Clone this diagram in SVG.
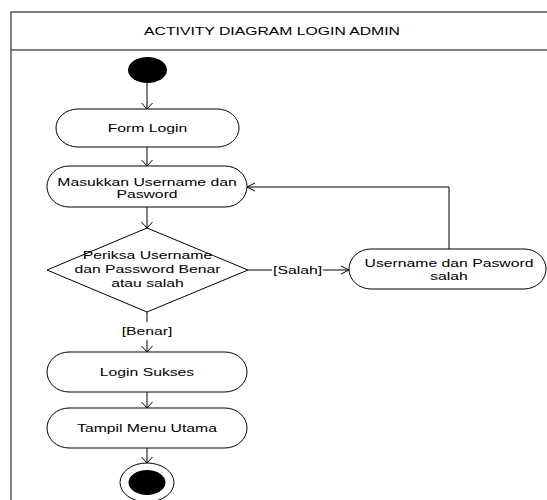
<svg xmlns="http://www.w3.org/2000/svg" width="547" height="500" viewBox="0 0 547 500">
<style>
.t{font-family:"Liberation Sans",Arial,sans-serif;font-size:10.5px;fill:#000;text-anchor:middle}
.n{fill:#fff;stroke:#000;stroke-width:1}
.c{fill:none;stroke:#000;stroke-width:1}
.fr{fill:none;stroke:#555;stroke-width:1.5}
</style>
<rect width="547" height="500" fill="#fff"/>
<g id="frame">
<rect class="fr" x="11" y="12" width="560" height="520"/>
<line class="fr" x1="11" y1="50" x2="560" y2="50"/>
<text class="t" transform="translate(272,35) scale(1.5,1)">ACTIVITY DIAGRAM LOGIN ADMIN</text>
</g>
<g id="connectors">
<path class="c" d="M147,83 V109 M141.5,103 L147,109 L152.5,103"/>
<path class="c" d="M147,147 V166 M141.5,160 L147,166 L152.5,160"/>
<path class="c" d="M147,207 V228 M141.5,222 L147,228 L152.5,222"/>
<path class="c" d="M147,312 V322 M147,340 V352 M141.5,346 L147,352 L152.5,346"/>
<path class="c" d="M248,270 H272 M323,270 H349 M341,266 L349,270 L341,274"/>
<path class="c" d="M449,249 V187 H247 M255,183 L247,187 L255,191"/>
<path class="c" d="M147,392 V408 M141.5,402 L147,408 L152.5,402"/>
<path class="c" d="M147,448 V463 M141.5,457 L147,463 L152.5,457"/>
<text class="t" transform="translate(147,335) scale(1.5,1)">[Benar]</text>
<text class="t" transform="translate(297.5,274) scale(1.5,1)">[Salah]</text>
</g>
<g id="start">
<ellipse cx="147.5" cy="70" rx="19.5" ry="13" fill="#000"/>
</g>
<g id="form-login">
<rect class="n" x="56" y="109" width="183" height="38" rx="22" ry="19"/>
<text class="t" transform="translate(147.5,132) scale(1.5,1)">Form Login</text>
</g>
<g id="masukkan">
<rect class="n" x="47" y="166" width="200" height="41" rx="22" ry="20.5"/>
<text class="t" transform="translate(147,185.5) scale(1.5,1)">Masukkan Username dan</text>
<text class="t" transform="translate(147,198) scale(1.5,1)">Pasword</text>
</g>
<g id="periksa">
<polygon class="n" points="147,228 248,270 147,312 47,270"/>
<text class="t" transform="translate(147.5,259) scale(1.5,1)">Periksa Username</text>
<text class="t" transform="translate(147.5,273) scale(1.5,1)">dan Password Benar</text>
<text class="t" transform="translate(147.5,287) scale(1.5,1)">atau salah</text>
</g>
<g id="salah">
<rect class="n" x="349" y="249" width="197" height="40" rx="22" ry="20"/>
<text class="t" transform="translate(449,266.5) scale(1.5,1)">Username dan Pasword</text>
<text class="t" transform="translate(449,279.5) scale(1.5,1)">salah</text>
</g>
<g id="login-sukses">
<rect class="n" x="47" y="352" width="200" height="40" rx="22" ry="20"/>
<text class="t" transform="translate(147,376) scale(1.5,1)">Login Sukses</text>
</g>
<g id="tampil">
<rect class="n" x="47" y="408" width="200" height="40" rx="22" ry="20"/>
<text class="t" transform="translate(147,432) scale(1.5,1)">Tampil Menu Utama</text>
</g>
<g id="end">
<ellipse class="n" cx="147" cy="482.5" rx="27" ry="19.5"/>
<ellipse cx="147" cy="482.5" rx="18.5" ry="12.5" fill="#000"/>
</g>
</svg>
